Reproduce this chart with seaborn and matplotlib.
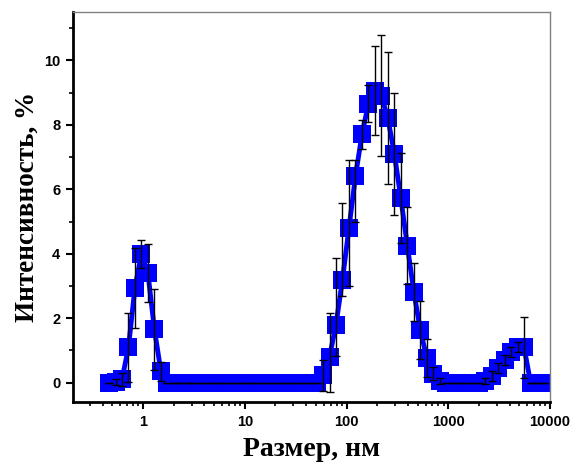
import numpy as np
import pandas as pd
import matplotlib
matplotlib.use("Agg")
import matplotlib.pyplot as plt
import seaborn as sns
from matplotlib.ticker import LogLocator, MultipleLocator, NullFormatter, FixedLocator

# --- data (size bins, nm) ---
size_nm = [0.4632, 0.5365, 0.6213, 0.7195, 0.8332, 0.9649, 1.117, 1.294, 1.499, 1.736,
           2.010, 2.328, 2.696, 3.122, 3.615, 4.187, 4.849, 5.615, 6.503, 7.531,
           8.721, 10.10, 11.70, 13.54, 15.69, 18.17, 21.04, 24.36, 28.21, 32.67,
           37.84, 43.82, 50.75, 58.77, 68.06, 78.82, 91.28, 105.7, 122.4, 141.8,
           164.2, 190.1, 220.2, 255.0, 295.3, 342.0, 396.1, 458.7, 531.2, 615.1,
           712.4, 825.0, 955.4, 1106, 1281, 1484, 1718, 1990, 2305, 2669,
           3091, 3580, 4145, 4801, 5560, 6439, 7456, 8635]
intensity = [0.0, 0.02, 0.1, 1.1, 2.95, 4.0, 3.4, 1.65, 0.35, 0.0,
             0.0, 0.0, 0.0, 0.0, 0.0, 0.0, 0.0, 0.0, 0.0, 0.0,
             0.0, 0.0, 0.0, 0.0, 0.0, 0.0, 0.0, 0.0, 0.0, 0.0,
             0.0, 0.0, 0.0, 0.25, 0.8, 1.8, 3.2, 4.8, 6.4, 7.7,
             8.65, 9.05, 8.9, 8.2, 7.1, 5.72, 4.25, 2.82, 1.64, 0.77,
             0.28, 0.05, 0.0, 0.0, 0.0, 0.0, 0.0, 0.0, 0.05, 0.2,
             0.45, 0.7, 0.95, 1.1, 1.1, 0.0, 0.0, 0.0]
err_low = [0.0, 0.1, 0.2, 1.07, 1.24, 0.44, 0.91, 1.25, 0.3, 0.0,
           0.0, 0.0, 0.0, 0.0, 0.0, 0.0, 0.0, 0.0, 0.0, 0.0,
           0.0, 0.0, 0.0, 0.0, 0.0, 0.0, 0.0, 0.0, 0.0, 0.0,
           0.0, 0.0, 0.0, 0.5, 1.1, 0.96, 0.51, 1.8, 1.4, 0.46,
           0.57, 1.38, 1.88, 2.05, 1.9, 1.4, 1.2, 0.9, 0.9, 0.6,
           0.2, 0.1, 0.0, 0.0, 0.0, 0.0, 0.0, 0.0, 0.1, 0.15,
           0.15, 0.15, 0.15, 0.15, 0.95, 0.0, 0.0, 0.0]
err_high = [0.0, 0.1, 0.2, 1.07, 1.24, 0.44, 0.91, 1.25, 0.3, 0.0,
            0.0, 0.0, 0.0, 0.0, 0.0, 0.0, 0.0, 0.0, 0.0, 0.0,
            0.0, 0.0, 0.0, 0.0, 0.0, 0.0, 0.0, 0.0, 0.0, 0.0,
            0.0, 0.0, 0.0, 0.46, 1.37, 2.07, 2.37, 2.1, 0.5, 0.46,
            0.57, 1.38, 1.88, 2.05, 1.9, 1.4, 1.2, 0.9, 0.9, 0.6,
            0.2, 0.1, 0.0, 0.0, 0.0, 0.0, 0.0, 0.0, 0.1, 0.15,
            0.15, 0.15, 0.15, 0.15, 0.95, 0.0, 0.0, 0.0]

xlabel = "Размер, нм"
ylabel = "Интенсивность, %"
yticks = [0, 2, 4, 6, 8, 10]
xticks = [1, 10, 100, 1000, 10000]
xticklabels = ["1", "10", "100", "1000", "10000"]

df = pd.DataFrame({"size": size_nm, "intensity": intensity})

sns.set_style("ticks")
plt.rcParams["font.family"] = ["Liberation Sans", "DejaVu Sans"]
plt.rcParams["text.color"] = "black"
plt.rcParams["axes.labelcolor"] = "black"
plt.rcParams["xtick.color"] = "black"
plt.rcParams["ytick.color"] = "black"

fig = plt.figure(figsize=(5.76, 4.71), dpi=100)
ax = fig.add_axes([73 / 576, 69 / 471, 477 / 576, 390 / 471])

sns.lineplot(data=df, x="size", y="intensity", ax=ax, color="#0000FF",
             linewidth=3.5, marker="s", markersize=12.3, markeredgewidth=0,
             markerfacecolor="#0000FF", zorder=2)
ax.errorbar(size_nm, intensity, yerr=[err_low, err_high], fmt="none",
            ecolor="black", elinewidth=1.0, capsize=3, capthick=1.0, zorder=3)

ax.set_xscale("log")
ax.set_xlim(0.205, 10000)
ax.set_ylim(-0.6, 11.5)

ax.xaxis.set_major_locator(FixedLocator(xticks))
ax.set_xticklabels(xticklabels)
ax.xaxis.set_minor_locator(LogLocator(base=10, subs=np.arange(2, 10), numticks=20))
ax.xaxis.set_minor_formatter(NullFormatter())
ax.yaxis.set_major_locator(FixedLocator(yticks))
ax.yaxis.set_minor_locator(MultipleLocator(1))

for lab in ax.get_xticklabels() + ax.get_yticklabels():
    lab.set_fontweight("bold")
    lab.set_fontsize(10.5)
    lab.set_color("black")

ax.tick_params(axis="both", which="major", direction="out", length=5, width=1.5,
               color="black", labelcolor="black", pad=4)
ax.tick_params(axis="both", which="minor", direction="out", length=3, width=1.2, color="black")

for side in ["left", "bottom"]:
    ax.spines[side].set_linewidth(2)
    ax.spines[side].set_color("black")
for side in ["top", "right"]:
    ax.spines[side].set_visible(True)
    ax.spines[side].set_linewidth(1)
    ax.spines[side].set_color("#808080")

ax.set_xlabel(xlabel, fontfamily=["Liberation Serif", "DejaVu Serif"], fontweight="bold",
              fontsize=20, labelpad=6, color="black")
ax.set_ylabel(ylabel, fontfamily=["Liberation Serif", "DejaVu Serif"], fontweight="bold",
              fontsize=19.5, labelpad=3, color="black")

fig.savefig("out.png", dpi=100)
